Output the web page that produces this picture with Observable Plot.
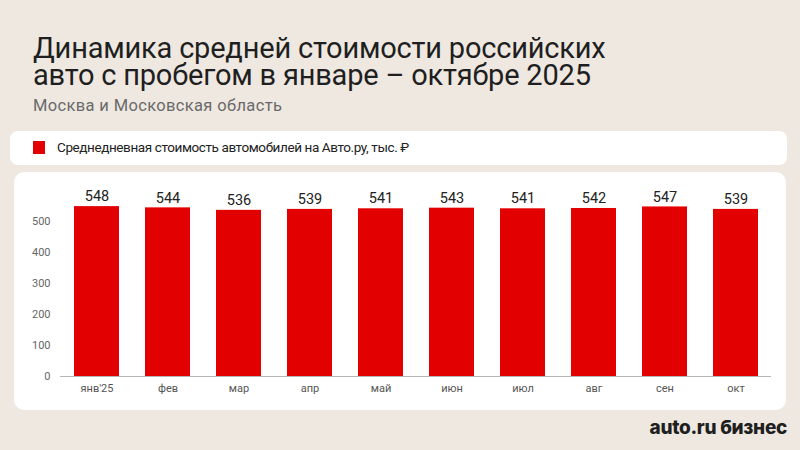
<!DOCTYPE html>
<html>
<head>
<meta charset="utf-8">
<script src="https://cdn.jsdelivr.net/npm/d3@7"></script>
<script src="https://cdn.jsdelivr.net/npm/@observablehq/plot@0.6"></script>
<style>
  html, body { margin: 0; padding: 0; }
  body { width: 800px; height: 450px; background: #eee8e1; position: relative; overflow: hidden; font-family: Roboto, "Noto Sans", sans-serif; }
  .title { position: absolute; left: 33px; font-size: 29px; line-height: 27px; height: 27px; color: #1f1f1f; letter-spacing: -0.2px; font-weight: 400; white-space: nowrap; }
  .t1 { top: 35px; }
  .t2 { top: 62px; }
  .subtitle { position: absolute; left: 33px; top: 96px; font-size: 16.5px; line-height: 20px; color: #6a6a6a; letter-spacing: 0.35px; }
  .legend { position: absolute; left: 10px; top: 131px; width: 777px; height: 34px; background: #fff; border-radius: 8px; }
  .legend .sw { position: absolute; left: 23px; top: 10px; width: 12px; height: 13px; background: #e30000; }
  .legend .lt { position: absolute; left: 47px; top: 8px; font-size: 13.5px; color: #222; letter-spacing: -0.4px; }
  .panel { position: absolute; left: 14px; top: 172px; width: 772px; height: 238px; background: #fff; border-radius: 10px; }
  #chart { position: absolute; left: 0; top: 172px; }
  .logo { position: absolute; right: 13px; top: 416px; font-family: Inter, Roboto, sans-serif; font-weight: 800; font-size: 19px; color: #1f1f1f; letter-spacing: -0.3px; }
</style>
</head>
<body>
<div class="title t1">Динамика средней стоимости российских</div>
<div class="title t2">авто с пробегом в январе – октябре 2025</div>
<div class="subtitle">Москва и Московская область</div>
<div class="legend"><div class="sw"></div><div class="lt">Среднедневная стоимость автомобилей на Авто.ру, тыс. ₽</div></div>
<div class="panel"></div>
<div id="chart"></div>
<div class="logo">auto.ru бизнес</div>
<script>
const months = ["янв'25", "фев", "мар", "апр", "май", "июн", "июл", "авг", "сен", "окт"];
const values = [548, 544, 536, 539, 541, 543, 541, 542, 547, 539];
const yTicks = [0, 100, 200, 300, 400, 500];

const data = months.map((m, i) => ({month: m, value: values[i]}));

const chart = Plot.plot({
  width: 800,
  height: 239,
  marginLeft: 60,
  marginRight: 29,
  marginTop: 18,
  marginBottom: 35,
  style: {background: "transparent", fontFamily: "Roboto, 'Noto Sans', sans-serif"},
  x: {domain: months, paddingInner: 0.367, paddingOuter: 0.18, label: null, tickSize: 0, tickPadding: 8},
  y: {domain: [0, 600], ticks: yTicks, label: null, tickSize: 0, tickPadding: 10},
  marks: [
    Plot.barY(data, {x: "month", y: "value", fill: "#e30000"}),
    Plot.ruleY([0], {stroke: "#b5b5b5", strokeWidth: 1}),
    Plot.text(data, {x: "month", y: "value", text: d => String(d.value), dy: -10, fontSize: 14.5, fill: "#222"}),
    Plot.axisX({tickSize: 0, tickPadding: 8, fontSize: 11, color: "#555", label: null}),
    Plot.axisY({ticks: yTicks, tickSize: 0, tickPadding: 10, fontSize: 11, color: "#666", label: null})
  ]
});
document.getElementById("chart").appendChild(chart);
</script>
</body>
</html>
